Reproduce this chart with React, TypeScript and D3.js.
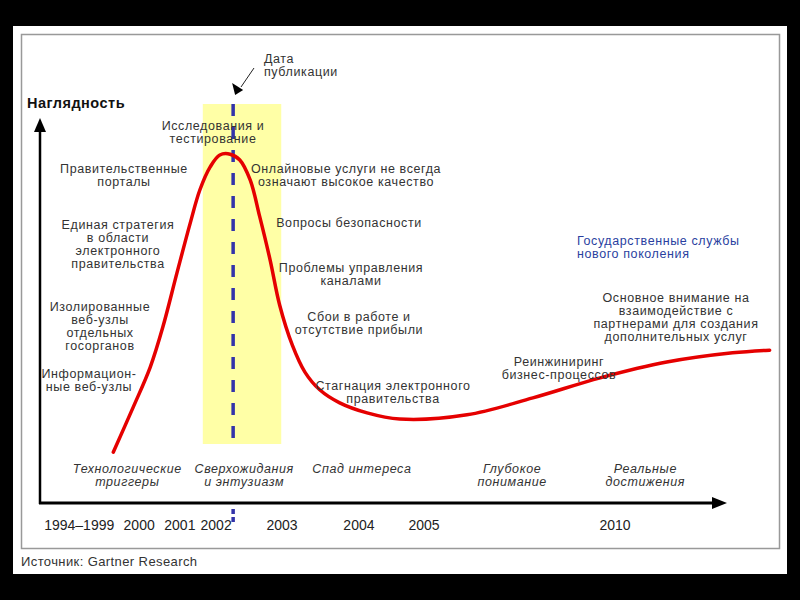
import * as d3 from "d3";

const W = 800;
const H = 600;
const PLOT = { left: 40, right: 780, top: 118, bottom: 503 };
const FONT = "Arial, 'Liberation Sans', sans-serif";

// hype curve, chart units (0..100 both ways)
const curveX = [9.9, 12.6, 14.9, 16.6, 18.5, 20.3, 21.6, 23.0, 24.3, 25.7, 27.0, 28.4, 29.7, 31.1, 32.4, 34.1, 35.8, 37.8, 40.5, 44.2, 48.6, 57.7, 66.6, 75.7, 84.7, 93.6, 98.6];
const curveY = [13.2, 24.9, 35.3, 45.7, 59.7, 72.7, 81.3, 87.3, 90.4, 90.6, 89.1, 83.9, 74.3, 63.1, 51.3, 41.0, 34.0, 29.4, 26.0, 23.4, 21.8, 22.9, 27.3, 32.5, 36.6, 39.0, 39.7];

const tickLabels = ["1994–1999", "2000", "2001", "2002", "2003", "2004", "2005", "2010"];
const tickPos = [5.3, 13.4, 18.9, 23.8, 32.7, 43.1, 51.9, 77.7];

const phaseLabels = [
  ["Технологические", "триггеры"],
  ["Сверхожидания", "и энтузиазм"],
  ["Спад интереса"],
  ["Глубокое", "понимание"],
  ["Реальные", "достижения"],
];
const phasePos = [11.8, 27.6, 43.5, 63.8, 81.8];

const hypeBand = [22.0, 32.6];
const publishAt = 26.1;

const notes = [
  ["Исследования и", "тестирование"],
  ["Правительственные", "порталы"],
  ["Онлайновые услуги не всегда", "означают высокое качество"],
  ["Единая стратегия", "в области", "электронного", "правительства"],
  ["Вопросы безопасности"],
  ["Проблемы управления", "каналами"],
  ["Изолированные", "веб-узлы", "отдельных", "госорганов"],
  ["Сбои в работе и", "отсутствие прибыли"],
  ["Информацион-", "ные веб-узлы"],
  ["Стагнация электронного", "правительства"],
  ["Реинжиниринг", "бизнес-процессов"],
  ["Основное внимание на", "взаимодействие с", "партнерами для создания", "дополнительных услуг"],
];
// [x center, first baseline] in pixels
const notePos: [number, number][] = [
  [213, 130], [124, 173], [346, 173], [118, 229], [349, 227], [351, 272],
  [100, 311], [359, 321], [89, 378], [393, 390], [559, 366], [676, 302],
];

const x = d3.scaleLinear().domain([0, 100]).range([PLOT.left, PLOT.right]);
const y = d3.scaleLinear().domain([0, 100]).range([PLOT.bottom, PLOT.top]);

const line = d3
  .line<number>()
  .x((_, i) => x(curveX[i]))
  .y((_, i) => y(curveY[i]))
  .curve(d3.curveCatmullRom.alpha(0.5));

const lineH = 13;
const LS = 0.6;

export default function App() {
  const pubX = x(publishAt);
  return (
    <svg
      width={W}
      height={H}
      style={{ position: "absolute", left: 0, top: 0, fontFamily: FONT }}
    >
      <rect width={W} height={H} fill="#000" />
      <rect x={13} y={26} width={774} height={548} fill="#fff" />
      <rect x={21.5} y={34.5} width={758} height={514} fill="none" stroke="#999" strokeWidth={1.5} />

      {/* hype band */}
      <rect
        x={x(hypeBand[0])}
        y={104}
        width={x(hypeBand[1]) - x(hypeBand[0])}
        height={444 - 104}
        fill="#ffffa6"
      />

      {/* publication date */}
      <line x1={pubX} x2={pubX} y1={104} y2={444} stroke="#3333aa" strokeWidth={3.5} strokeDasharray="12 11" />
      <line x1={pubX} x2={pubX} y1={509} y2={524} stroke="#3333aa" strokeWidth={3.5} strokeDasharray="5 3" />
      <line x1={254} y1={68} x2={241} y2={87} stroke="#222" strokeWidth={1} />
      <path d={`M${pubX + 2},95 L${pubX - 1},83 L${pubX + 10},90 Z`} fill="#000" />
      <text x={264} y={63} fontSize={12.5} fill="#333" letterSpacing={LS}>
        <tspan x={264}>Дата</tspan>
        <tspan x={264} dy={12.5}>публикации</tspan>
      </text>

      {/* axes */}
      <line x1={PLOT.left} x2={PLOT.left} y1={PLOT.bottom + 1} y2={130} stroke="#000" strokeWidth={2.5} />
      <path d={`M${PLOT.left},${PLOT.top} L${PLOT.left - 6},132 L${PLOT.left + 6},132 Z`} fill="#000" />
      <line x1={PLOT.left - 1} x2={714} y1={PLOT.bottom} y2={PLOT.bottom} stroke="#000" strokeWidth={3} />
      <path d={`M727,${PLOT.bottom} L712,${PLOT.bottom - 6} L712,${PLOT.bottom + 6} Z`} fill="#000" />
      <text x={27} y={108} fontSize={14.5} fontWeight="bold" fill="#111" letterSpacing={0.5}>
        Наглядность
      </text>

      {/* curve */}
      <path d={line(curveX) ?? ""} fill="none" stroke="#e50000" strokeWidth={3.5} strokeLinecap="round" />

      {/* notes */}
      {notes.map((lines, i) => (
        <text key={i} textAnchor="middle" fontSize={12.5} fill="#333" letterSpacing={LS}>
          {lines.map((s, j) => (
            <tspan key={j} x={notePos[i][0]} y={notePos[i][1] + j * lineH}>
              {s}
            </tspan>
          ))}
        </text>
      ))}
      <text fontSize={12.5} fill="#2a3f9f" letterSpacing={LS}>
        <tspan x={577} y={245}>Государственные службы</tspan>
        <tspan x={577} y={258}>нового поколения</tspan>
      </text>

      {/* phases */}
      {phaseLabels.map((lines, i) => (
        <text key={i} textAnchor="middle" fontSize={12.5} fontStyle="italic" fill="#333" letterSpacing={LS}>
          {lines.map((s, j) => (
            <tspan key={j} x={x(phasePos[i])} y={473 + j * 13}>
              {s}
            </tspan>
          ))}
        </text>
      ))}

      {/* year ticks */}
      {tickLabels.map((t, i) => (
        <text key={t} x={x(tickPos[i])} y={530} textAnchor="middle" fontSize={14} fill="#222">
          {t}
        </text>
      ))}

      <text x={21} y={566} fontSize={13} fill="#333" letterSpacing={0.4}>
        Источник: Gartner Research
      </text>
    </svg>
  );
}
